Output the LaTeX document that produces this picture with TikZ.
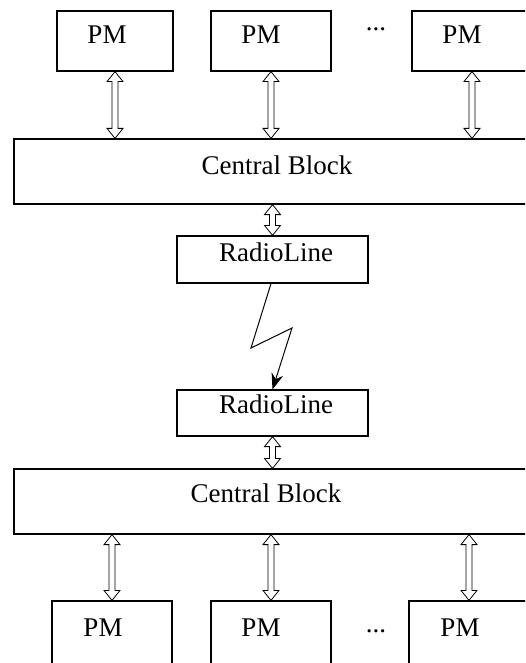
\documentclass[tikz,border=0pt]{standalone}
\usepackage{fontspec}
\setmainfont{Liberation Serif}
\usetikzlibrary{arrows.meta,calc}
\begin{document}
\begin{tikzpicture}[x=1pt,y=-1pt,
  box/.style={draw,line width=1.2pt,inner sep=0pt},
  lbl/.style={inner sep=0pt,anchor=base,font=\fontsize{27}{30}\selectfont},
  dots/.style={inner sep=0pt,anchor=base,font=\fontsize{27}{30}\selectfont},
  dbl/.style={line width=0.8pt,
    to path={let \p1=(\tikztostart), \p2=(\tikztotarget) in
      (\x1,\y1) -- (\x1+8pt,\y1-10pt) -- (\x1+3pt,\y1-10pt) -- (\x1+3pt,\y2+10pt)
      -- (\x1+8pt,\y2+10pt) -- (\x1,\y2) -- (\x1-8pt,\y2+10pt) -- (\x1-3pt,\y2+10pt)
      -- (\x1-3pt,\y1-10pt) -- (\x1-8pt,\y1-10pt) -- cycle}},
  bolt/.style={line width=1pt,-{Stealth[length=16pt,width=12pt]}}]
\useasboundingbox (0,0) rectangle (525,663);
\clip (0,0) rectangle (525,663);
% top PMs
\node[box,minimum width=116pt,minimum height=60pt] (pt1) at (115,41) {};
\node[box,minimum width=120pt,minimum height=60pt] (pt2) at (271,41) {};
\node[box,minimum width=120pt,minimum height=60pt] (pt3) at (472,41) {};
\node[lbl] (pt1l) at (107,44) {PM};
\node[lbl] (pt2l) at (261,44) {PM};
\node[lbl] (pt3l) at (462,44) {PM};
\node[dots] (dtop) at (376,31) {...};
% central block 1
\node[box,minimum width=540pt,minimum height=65pt] (cb1) at (284,171.5) {};
\node[lbl] (cb1l) at (277,175) {Central Block};
% radioline 1
\node[box,minimum width=191pt,minimum height=47pt] (rl1) at (272.5,259.5) {};
\node[lbl] (rl1l) at (276,261.5) {RadioLine};
% radioline 2
\node[box,minimum width=191pt,minimum height=46pt] (rl2) at (272.5,413) {};
\node[lbl] (rl2l) at (276,413.5) {RadioLine};
% central block 2
\node[box,minimum width=540pt,minimum height=65pt] (cb2) at (284,501.5) {};
\node[lbl] (cb2l) at (266,502.5) {Central Block};
% bottom PMs
\node[box,minimum width=120pt,minimum height=80pt] (pb1) at (112,641) {};
\node[box,minimum width=120pt,minimum height=80pt] (pb2) at (271,641) {};
\node[box,minimum width=120pt,minimum height=80pt] (pb3) at (469,641) {};
\node[lbl] (pb1l) at (103,636) {PM};
\node[lbl] (pb2l) at (261,636) {PM};
\node[lbl] (pb3l) at (460,636) {PM};
\node[dots] (dbot) at (376,632) {...};
% double arrows
\draw[dbl] (pt1.south) to (pt1.south |- cb1.north);
\draw[dbl] (pt2.south) to (pt2.south |- cb1.north);
\draw[dbl] (pt3.south) to (pt3.south |- cb1.north);
\draw[dbl] (cb1.south -| rl1.north) to (rl1.north);
\draw[dbl] (rl2.south) to (rl2.south |- cb2.north);
\draw[dbl] (cb2.south -| pb1.north) to (pb1.north);
\draw[dbl] (cb2.south -| pb2.north) to (pb2.north);
\draw[dbl] (cb2.south -| pb3.north) to (pb3.north);
% radio link
\coordinate (z1) at (251,348);
\coordinate (z2) at (292,328);
\draw[bolt] ([xshift=-1.5pt]rl1.south) -- (z1) -- (z2) -- (rl2.north);
\end{tikzpicture}
\end{document}
